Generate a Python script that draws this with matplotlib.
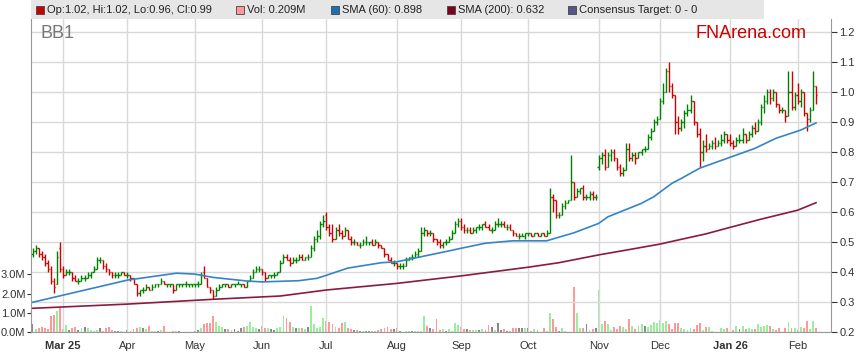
import matplotlib.pyplot as plt
from matplotlib.patches import Rectangle
import numpy as np
import pandas as pd

plt.rcParams['font.family'] = ['Liberation Sans', 'DejaVu Sans']

# trading days shown (one bar per day)
dates = pd.bdate_range('2025-02-17', '2026-02-10')

opens = [.46, .47, .48, .46, .45, .43, .41, .37, .36, .48,
         .41, .39, .40, .40, .38, .37, .37, .38, .38, .39, .40, .41, .44, .44, .42, .41, .40, .39, .39, .39, .40,
         .39, .39, .38, .36, .33, .34, .34, .35, .34, .35, .36, .36, .37, .36, .36, .36, .34, .36, .36, .36, .36, .36,
         .36, .36, .36, .40, .38, .35, .34, .32, .34, .35, .36, .36, .35, .36, .36, .36, .36, .35, .37, .38, .40, .41,
         .41, .40, .38, .39, .39, .39, .40, .43, .45, .44, .43, .44, .44, .45, .44, .45, .45, .48, .51, .52, .56,
         .59, .55, .53, .51, .54, .53, .52, .54, .51, .50, .50, .49, .49, .50, .50, .50, .49, .50, .49, .48, .46, .44, .43,
         .43, .42, .42, .42, .44, .45, .45, .46, .47, .53, .54, .53, .53, .51, .50, .49, .50, .50, .51, .53, .56,
         .57, .55, .54, .54, .53, .54, .55, .55, .56, .55, .54, .54, .56, .56, .56, .55, .55, .54, .53, .52, .52, .52,
         .53, .53, .52, .53, .52, .53, .52, .53, .65, .64, .59, .59, .62, .63, .64, .70, .65, .67, .68, .65, .65, .66, .65,
         .75, .78, .79, .75, .79, .80, .78, .75, .73, .74, .81, .78, .79, .78, .80, .81, .81, .85, .87, .90,
         .91, .97, 1.00, 1.07, 1.02, .99, .90, .88, .90, .93, .94, .97, .90, .86, .80, .82, .81, .82, .83, .82, .83, .84, .86,
         .84, .83, .82, .84, .84, .86, .84, .86, .88, .87, .90, .95, .97, 1.00, .98, 1.00, .96, .94, .94, .92, 1.00, .95,
         .99, .97, 1.00, .93, .91, .94, 1.02]
highs = [.48, .49, .48, .47, .46, .44, .42, .38, .47, .50,
         .42, .41, .41, .40, .39, .38, .39, .39, .40, .40, .42, .45, .45, .44, .43, .41, .40, .40, .40, .40, .40,
         .40, .39, .38, .36, .34, .35, .36, .35, .36, .36, .36, .38, .37, .36, .36, .36, .36, .36, .36, .37, .36, .36,
         .36, .37, .40, .42, .38, .35, .34, .35, .36, .36, .36, .36, .36, .36, .37, .36, .36, .37, .39, .41, .42, .42,
         .41, .40, .39, .39, .40, .40, .44, .46, .46, .45, .45, .45, .46, .46, .45, .46, .49, .52, .54, .57, .59,
         .60, .56, .56, .55, .56, .54, .55, .54, .52, .51, .50, .50, .51, .52, .50, .51, .51, .50, .49, .48, .46, .45, .44,
         .43, .43, .43, .45, .45, .46, .47, .48, .55, .55, .54, .54, .53, .51, .51, .50, .51, .52, .54, .57, .58,
         .58, .56, .55, .55, .55, .55, .56, .56, .57, .56, .55, .57, .58, .57, .57, .56, .56, .54, .53, .53, .53, .53,
         .53, .53, .53, .53, .53, .53, .54, .68, .66, .64, .60, .63, .64, .64, .79, .70, .68, .68, .69, .66, .67, .67, .66,
         .79, .80, .81, .80, .81, .81, .78, .76, .75, .83, .83, .80, .80, .80, .81, .82, .86, .88, .91, .92,
         .98, 1.03, 1.08, 1.10, 1.03, .99, .92, .91, .94, .96, .99, .97, .90, .88, .84, .86, .83, .84, .85, .84, .86, .87, .86,
         .86, .84, .85, .86, .88, .86, .87, .89, .90, .91, .96, .99, 1.01, 1.01, 1.01, 1.00, .96, .95, .94, 1.07, 1.07, 1.00,
         1.03, 1.01, 1.00, .93, .95, 1.07, 1.02]
lows = [.45, .46, .45, .44, .42, .40, .36, .33, .36, .40,
        .38, .39, .39, .37, .37, .36, .37, .37, .38, .38, .40, .41, .43, .41, .40, .39, .38, .38, .38, .39, .39,
        .38, .37, .36, .32, .32, .33, .34, .34, .34, .35, .35, .36, .36, .35, .35, .33, .34, .35, .35, .35, .35, .35,
        .35, .35, .36, .38, .35, .33, .31, .32, .34, .35, .35, .35, .35, .35, .36, .35, .35, .35, .37, .38, .40, .40,
        .39, .37, .38, .38, .38, .39, .40, .43, .44, .42, .43, .43, .44, .44, .44, .44, .45, .47, .50, .51, .55,
        .54, .52, .50, .51, .52, .51, .52, .51, .49, .49, .49, .48, .49, .49, .49, .49, .49, .48, .48, .45, .44, .43, .42,
        .41, .41, .41, .42, .44, .44, .45, .45, .47, .52, .52, .52, .50, .49, .48, .48, .49, .50, .51, .53, .55,
        .54, .53, .53, .53, .53, .53, .54, .54, .55, .54, .53, .54, .55, .55, .55, .54, .54, .52, .52, .51, .52, .51,
        .52, .52, .52, .52, .52, .52, .52, .53, .60, .58, .58, .59, .61, .63, .64, .64, .65, .66, .64, .64, .64, .64, .64,
        .74, .76, .74, .75, .77, .77, .74, .72, .72, .74, .77, .77, .76, .78, .79, .80, .81, .84, .87, .89,
        .91, .96, 1.00, 1.00, .98, .86, .86, .87, .88, .92, .93, .89, .85, .75, .77, .80, .81, .81, .81, .82, .82, .83, .83,
        .82, .81, .82, .83, .83, .83, .84, .85, .86, .87, .89, .93, .96, .96, .97, .95, .93, .93, .90, .92, .94, .94,
        .96, .95, .92, .87, .90, .94, .96]
closes = [.47, .48, .46, .45, .43, .41, .37, .35, .45, .41,
          .39, .40, .40, .38, .37, .37, .38, .38, .39, .40, .41, .44, .44, .42, .41, .40, .39, .39, .39, .40, .39,
          .39, .38, .36, .33, .34, .34, .35, .34, .35, .36, .36, .37, .36, .36, .36, .34, .36, .36, .36, .36, .36, .36,
          .36, .36, .39, .38, .35, .34, .32, .34, .35, .36, .36, .35, .36, .36, .36, .36, .35, .37, .38, .40, .41, .41,
          .40, .38, .39, .39, .39, .40, .43, .45, .44, .43, .44, .44, .45, .44, .45, .45, .48, .51, .52, .56, .57,
          .55, .53, .51, .54, .53, .52, .54, .51, .50, .50, .49, .49, .50, .50, .50, .49, .50, .49, .48, .46, .44, .43, .43,
          .42, .42, .42, .44, .45, .45, .46, .47, .53, .54, .53, .53, .51, .50, .49, .50, .50, .51, .53, .56, .57,
          .55, .54, .54, .53, .54, .55, .55, .56, .55, .54, .54, .56, .56, .56, .55, .55, .54, .53, .52, .52, .52, .53,
          .53, .52, .53, .52, .53, .52, .53, .65, .64, .59, .59, .62, .63, .64, .70, .65, .67, .68, .65, .65, .66, .65, .65,
          .78, .79, .75, .79, .80, .78, .75, .73, .74, .81, .78, .79, .78, .80, .81, .81, .85, .87, .90, .91,
          .97, 1.00, 1.07, 1.02, .99, .90, .88, .90, .93, .94, .97, .90, .86, .80, .82, .81, .82, .83, .82, .83, .84, .86, .84,
          .83, .82, .84, .84, .86, .84, .86, .88, .87, .90, .95, .97, 1.00, .98, 1.00, .96, .94, .94, .92, 1.00, .95, .99,
          .97, 1.00, .93, .91, .94, 1.02, .99]
# volume in millions
volumes = [.43, .16, .20, .26, .20, .15, .85, .90, 1.12, 1.28,
           .15, .38, .12, .20, .26, .12, .20, .26, .20, .12, .09, .12, .20, .09, .20, .26, .12, .09, .09, .09, .03,
           .12, .09, .15, .20, .26, .20, .15, .33, .05, .09, .09, .12, .33, .03, .03, .05, .09, .05, .03, .03, .03, .03,
           .05, .12, .20, .45, .47, .47, .85, .55, .33, .26, .15, .15, .12, .15, .09, .20, .26, .33, .55, .30, .20, .15,
           .33, .20, .20, .15, .12, .20, .26, .85, .73, .55, .26, .20, .20, .20, .15, .26, 1.36, .43, .20, .26, .72,
           .59, .55, .41, .26, .20, .50, .55, .20, .15, .12, .12, .09, .05, .09, .09, .09, .09, .12, .15, .20, .26, .15, .15,
           .20, .09, .03, .05, .05, .05, .09, .09, .05, .85, .33, .20, .15, .67, .12, .15, .09, .15, .09, .50, .38,
           .26, .15, .18, .12, .12, .12, .12, .15, .12, .38, .26, .12, .50, .12, .18, .09, .09, .20, .20, .20, .20, .20,
           .20, .09, .15, .12, .03, .20, .09, 1.02, .71, .26, .09, .20, .09, .03, .03, 2.36, .98, .20, .20, .43, .12, .15, .20,
           2.19, .43, .59, .43, .12, .26, .15, .33, .26, .15, .69, .33, .15, .33, .43, .33, .26, .38, .55, .50,
           .64, .50, .59, .43, .15, .50, .50, .20, .18, .12, .20, .15, .38, .50, .12, .26, .26, .09, .03, .03, .20, .15, .20,
           .03, .12, .33, .18, .33, .15, .20, .18, .15, .43, .29, .33, .38, .33, .18, .12, .20, .03, .20, .55, .20, .20,
           .12, .26, .20, .60, .15, .60, .21]

# moving averages at a few bar positions
sma60_pos = [0, 31, 47, 53, 59, 70, 75, 87, 93, 96, 103, 114, 119, 127, 135, 140, 148, 157, 168, 177,
             185, 188, 199, 203, 209, 212, 218, 230, 236, 243, 251, 256]
sma60_val = [.300, .374, .397, .394, .383, .371, .368, .372, .380, .390, .414, .432, .435, .452, .469, .480,
             .497, .505, .505, .532, .563, .585, .630, .652, .697, .713, .747, .791, .813, .847, .874, .898]
sma200_pos = [0, 31, 59, 81, 96, 119, 140, 162, 172, 185, 194, 205, 212, 220, 228, 238, 250, 256]
sma200_val = [.280, .294, .310, .321, .341, .363, .388, .417, .432, .458, .474, .494, .510, .528, .550,
              .577, .607, .632]

month_labels = ['Mar 25', 'Apr', 'May', 'Jun', 'Jul', 'Aug', 'Sep', 'Oct', 'Nov', 'Dec', 'Jan 26', 'Feb']
price_ticks = [0.2, 0.3, 0.4, 0.5, 0.6, 0.7, 0.8, 0.9, 1.0, 1.1, 1.2]
vol_ticks = [0, 1, 2, 3]

W, H = 859, 363
fig = plt.figure(figsize=(W / 100, H / 100), dpi=100)
rect = [31 / W, (H - 332.3) / H, 800 / W, (332.3 - 19) / H]
ax = fig.add_axes(rect)
axv = ax.twinx()
ax.set_zorder(axv.get_zorder() + 1)
ax.patch.set_visible(False)

n = len(closes)
x = np.arange(n)
o = np.array(opens); h = np.array(highs); l = np.array(lows); c = np.array(closes)
prev = np.r_[c[0], c[:-1]]

# volume bars
vcol = np.where(c > prev, '#99ee99', np.where(c < prev, '#ff9999', '#888888'))
axv.bar(x, volumes, width=0.62, color=vcol, linewidth=0)
axv.set_ylim(0, 313.3 / 19.3)
axv.yaxis.tick_left()
axv.set_yticks(vol_ticks)
axv.set_yticklabels(['%.1fM' % v for v in vol_ticks])
axv.tick_params(axis='y', labelsize=8, colors='#333333', length=3, pad=1)
for s in axv.spines.values():
    s.set_visible(False)

# OHLC bars
pcol = np.where(c >= o, '#008000', '#d00000')
ax.vlines(x, l, h, colors=pcol, lw=1.0)
ax.hlines(o, x - 0.45, x, colors=pcol, lw=1.0)
ax.hlines(c, x, x + 0.45, colors=pcol, lw=1.0)

ax.plot(sma60_pos, sma60_val, color='#3585c4', lw=1.2)
ax.plot(sma200_pos, sma200_val, color='#8b1a3f', lw=1.2)

ax.set_xlim(-0.5, 260.9)
ax.set_ylim(0.2, 0.2 + 313.3 / 300)
months = dates.month
month_pos = [i for i in range(1, n) if months[i] != months[i - 1]]
ax.set_xticks(month_pos)
ax.set_xticklabels(month_labels)
for t in ax.get_xticklabels():
    if ' ' in t.get_text():
        t.set_fontweight('bold')
ax.tick_params(axis='x', labelsize=8, colors='#333333', length=0, pad=6)
ax.yaxis.tick_right()
ax.set_yticks(price_ticks)
ax.set_yticklabels(['%.1f' % v for v in price_ticks])
ax.tick_params(axis='y', labelsize=8, colors='#333333', length=4, pad=2)
ax.grid(True, color='#d9d9d9', lw=1.0)
ax.set_axisbelow(True)
ax.spines['top'].set_visible(False)
for k in ['left', 'right', 'bottom']:
    ax.spines[k].set_color('#999999')

# legend strip
fig.patches.append(Rectangle((31 / W, 1 - 19 / H), (764 - 31) / W, 19 / H, transform=fig.transFigure,
                             facecolor='#e6e6e6', edgecolor='none'))
legend_items = [(36, '#cc0000', 'Op:1.02, Hi:1.02, Lo:0.96, Cl:0.99'),
                (236, '#ff9999', 'Vol: 0.209M'),
                (331, '#1f6fb5', 'SMA (60): 0.898'),
                (447, '#800020', 'SMA (200): 0.632'),
                (568, '#555588', 'Consensus Target: 0 - 0')]
for px, col, txt in legend_items:
    fig.patches.append(Rectangle((px / W, 1 - 14 / H), 8 / W, 8 / H, transform=fig.transFigure,
                                 facecolor=col, edgecolor='#444444', lw=0.6))
    fig.text((px + 11) / W, 1 - 10 / H, txt, fontsize=8, color='#222222', va='center')

fig.text(40 / W, 1 - 34 / H, 'BB1', fontsize=13, color='#777777', va='center')
fig.text(751 / W, 1 - 34 / H, 'FNArena.com', fontsize=13, color='#cc0000', va='center', ha='center')

fig.savefig('out.png', dpi=100)
